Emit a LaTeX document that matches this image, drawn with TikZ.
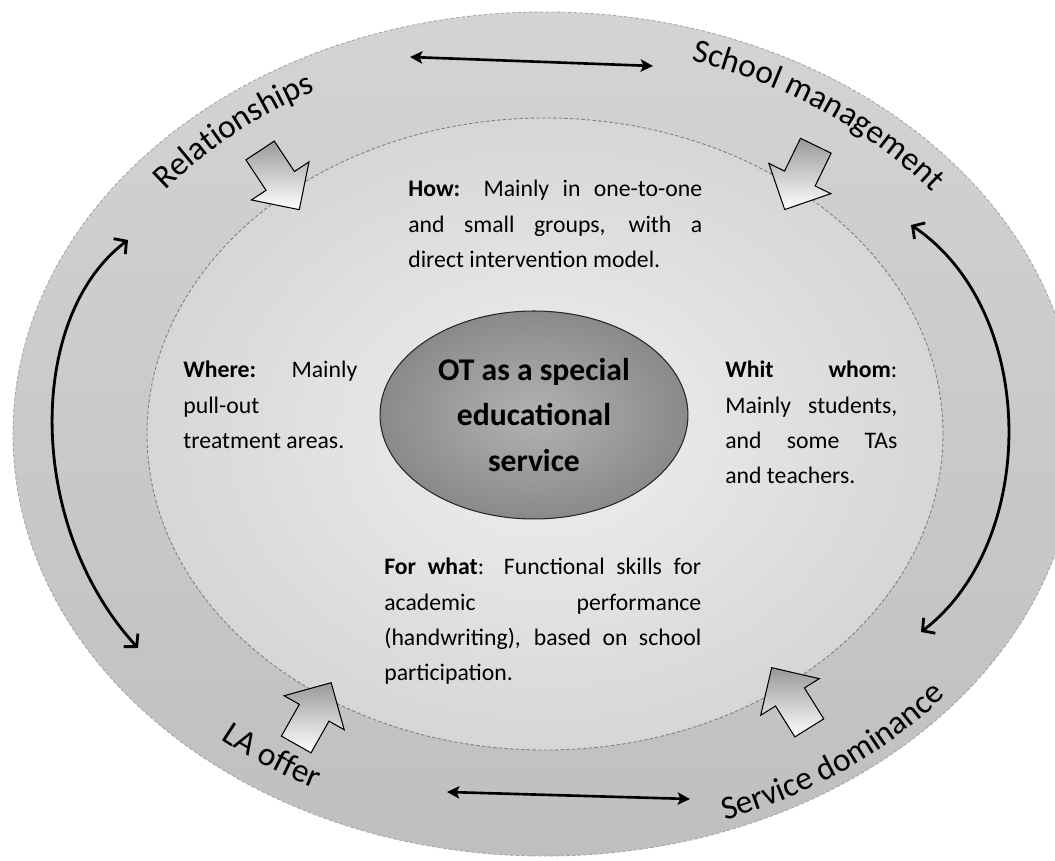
\documentclass[tikz,border=0pt]{standalone}
\usepackage{fontspec}
\setmainfont{Carlito}
\usetikzlibrary{arrows.meta, shapes.geometric, shapes.arrows, decorations.text}

\newcommand{\bodyfont}{\fontsize{13.5}{20.1}\selectfont}
\newcommand{\ringfont}{\fontsize{19}{20}\selectfont}

\tikzset{
  ring/.style={draw=black!35, dash pattern=on 2pt off 1.2pt, line width=0.5pt},
  infobox/.style={anchor=north west, inner sep=0pt, align=justify, font=\bodyfont},
  blockarrow/.style={single arrow, draw=black, line width=0.6pt, inner sep=0pt,
    text height=0.33cm, text depth=0.33cm,
    minimum height=1.42cm, single arrow head extend=0.35cm,
    top color=black!40, bottom color=white},
  feedback/.style={line width=1.6pt,
    {Straight Barb[length=5pt,width=11pt]}-{Straight Barb[length=5pt,width=11pt]}},
  exchange/.style={line width=1.5pt,
    {Stealth[length=7pt,width=7pt,inset=1.5pt]}-{Stealth[length=7pt,width=7pt,inset=1.5pt]}},
  ringlabel/.style={decorate, decoration={text along path, text align=center,
    text={|\ringfont|#1}}}
}

\begin{document}
\begin{tikzpicture}[x=0.02cm, y=0.02cm]
    \clip (-545,-427) rectangle (510,434);

    % outer ring and inner field
    \draw[ring, top color=black!17, bottom color=black!25] (0,0) ellipse[x radius=532, y radius=422];
    \draw[ring, draw=black!50, inner color=black!6, outer color=black!16] (0,0) ellipse[x radius=398, y radius=316];

    % centre
    \node[ellipse, draw=black!85, line width=0.6pt, inner color=black!30, outer color=black!46,
      minimum width=6.16cm, minimum height=4.16cm, align=center,
      font=\fontsize{18}{26}\selectfont\bfseries] (ot) at (-11,19) {OT as a special\\educational\\service};

    % the four questions
    \node[infobox, text width=5.88cm] (how) at (-137,254)
      {\textbf{How:} Mainly in one-to-one\linebreak and small groups, with a\linebreak direct intervention model.};
    \node[infobox, text width=3.48cm] (where) at (-362,73)
      {\textbf{Where:} Mainly\linebreak pull-out\linebreak treatment areas.};
    \node[infobox, text width=3.44cm] (whom) at (180,73)
      {\textbf{Whit whom}:\linebreak Mainly students,\linebreak and some TAs\linebreak and teachers.};
    \node[infobox, text width=6.34cm] (forwhat) at (-161,-124)
      {\textbf{For what}: Functional skills for\linebreak academic performance\linebreak (handwriting), based on school\linebreak participation.};

    % influences pointing inwards
    \node[blockarrow, rotate=-56.5] (relArrow) at (-270,261) {};
    \node[blockarrow, rotate=-116] (schoolArrow) at (259,264) {};
    \node[blockarrow, rotate=60.5] (laArrow) at (-235.5,-287) {};
    \node[blockarrow, rotate=122] (serviceArrow) at (250,-271) {};

    % arrows around the ring
    \coordinate (topL) at (-135,377);
    \coordinate (topR) at (108,368);
    \coordinate (botL) at (-98,-358);
    \coordinate (botR) at (145,-365);
    \coordinate (leftTop) at (-417,194);
    \coordinate (leftBot) at (-407,-214);
    \coordinate (rightTop) at (366,209);
    \coordinate (rightBot) at (376,-198);
    \draw[exchange] (topL) -- (topR);
    \draw[exchange] (botL) -- (botR);
    \draw[feedback] (leftTop) .. controls +(-102,-77) and +(-112,122) .. (leftBot);
    \draw[feedback] (rightTop) .. controls +(128,-86) and +(118,90) .. (rightBot);

    % ring labels
    \path[ringlabel=Relationships] (161:487 and 389) arc[start angle=161, end angle=101, x radius=487, y radius=389];
    \path[ringlabel=School management] (89:492 and 391) arc[start angle=89, end angle=19, x radius=492, y radius=391];
    \path[ringlabel=LA offer] (205:503 and 399) arc[start angle=205, end angle=265, x radius=503, y radius=399];
    \path[ringlabel=Service dominance] (272:519 and 412) arc[start angle=272, end angle=342, x radius=519, y radius=412];
\end{tikzpicture}
\end{document}
